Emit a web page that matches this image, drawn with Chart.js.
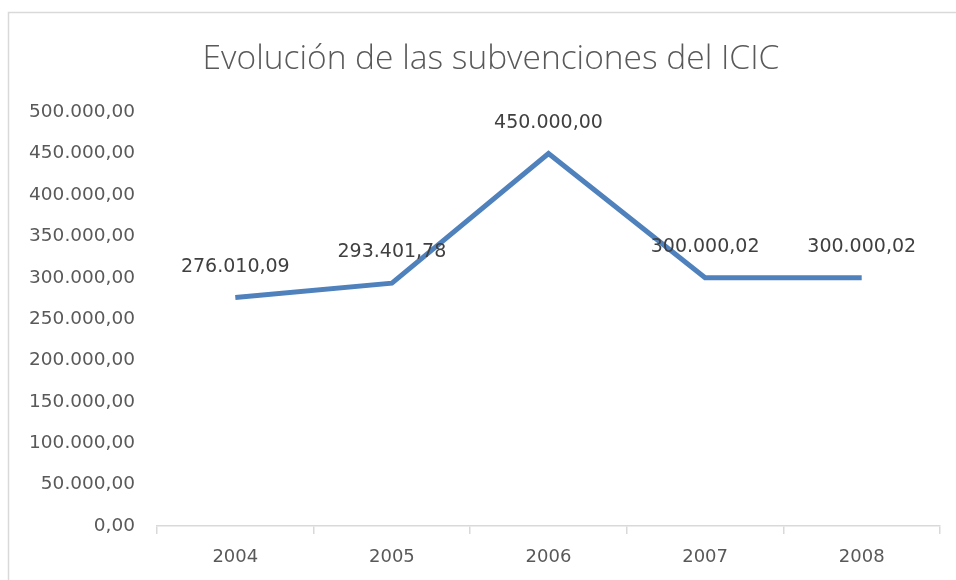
<!DOCTYPE html>
<html>
<head>
<meta charset="utf-8">
<script src="https://cdn.jsdelivr.net/npm/chart.js@4/dist/chart.umd.min.js"></script>
<style>
  html, body { margin: 0; padding: 0; background: #ffffff; }
  #wrap { width: 956px; height: 580px; position: relative; }
</style>
</head>
<body>
<div id="wrap"><canvas id="c" width="956" height="580"></canvas></div>
<script>
const chartTitle = "Evolución de las subvenciones del ICIC";
const years = ["2004", "2005", "2006", "2007", "2008"];
const subvenciones = [276010.09, 293401.78, 450000.00, 300000.02, 300000.02];
const yMin = 0;
const yMax = 500000;
const yStep = 50000;

function fmtES(v) {
  const neg = v < 0;
  const fixed = Math.abs(v).toFixed(2);
  let [intPart, dec] = fixed.split(".");
  intPart = intPart.replace(/\B(?=(\d{3})+(?!\d))/g, ".");
  return (neg ? "-" : "") + intPart + "," + dec;
}

const frame = {
  id: "frame",
  beforeDraw(chart) {
    const ctx = chart.ctx;
    ctx.save();
    ctx.fillStyle = "#ffffff";
    ctx.fillRect(0, 0, chart.width, chart.height);
    ctx.strokeStyle = "#d9d9d9";
    ctx.lineWidth = 1.5;
    ctx.beginPath();
    ctx.moveTo(8.5, chart.height);
    ctx.lineTo(8.5, 12.5);
    ctx.lineTo(chart.width, 12.5);
    ctx.stroke();
    ctx.restore();
  }
};

// shift the title block so it is centred like the reference (slightly right of canvas centre)
const titleShift = {
  id: "titleShift",
  afterLayout(chart) {
    const tb = chart.titleBlock;
    if (tb) { tb.left += 17; tb.right += 17; }
  }
};

const dataLabels = {
  id: "dataLabels",
  afterDatasetsDraw(chart) {
    const ctx = chart.ctx;
    const meta = chart.getDatasetMeta(0);
    const ds = chart.data.datasets[0];
    ctx.save();
    ctx.font = "19px 'DejaVu Sans', sans-serif";
    ctx.fillStyle = "#404040";
    ctx.textAlign = "center";
    ctx.textBaseline = "middle";
    meta.data.forEach((pt, i) => {
      ctx.fillText(fmtES(ds.data[i]), pt.x, pt.y - 31);
    });
    ctx.restore();
  }
};

new Chart(document.getElementById("c"), {
  type: "line",
  data: {
    labels: years,
    datasets: [{
      label: "Subvenciones",
      data: subvenciones,
      borderColor: "#4f81bd",
      backgroundColor: "#4f81bd",
      borderWidth: 5,
      pointRadius: 0,
      tension: 0,
      borderCapStyle: "butt",
      borderJoinStyle: "miter"
    }]
  },
  options: {
    responsive: false,
    animation: false,
    devicePixelRatio: 1,
    layout: { padding: { left: 8, right: 16, top: 0, bottom: 1 } },
    plugins: {
      legend: { display: false },
      tooltip: { enabled: false },
      title: {
        display: true,
        text: chartTitle,
        color: "#595959",
        font: { family: "'Open Sans', sans-serif", size: 33.5, weight: "300" },
        padding: { top: 39, bottom: 33 }
      }
    },
    scales: {
      x: {
        type: "category",
        offset: true,
        grid: {
          display: true,
          offset: true,
          drawOnChartArea: false,
          drawTicks: true,
          tickLength: 8,
          color: "#d9d9d9",
          lineWidth: 1.5
        },
        border: { display: true, color: "#d9d9d9", width: 1.5 },
        ticks: {
          color: "#595959",
          font: { family: "'DejaVu Sans', sans-serif", size: 18, lineHeight: 1.0 },
          padding: 14
        },
        afterFit(scale) { scale.height = 53; }
      },
      y: {
        min: yMin,
        max: yMax,
        grid: { display: false },
        border: { display: false },
        ticks: {
          stepSize: yStep,
          color: "#595959",
          font: { family: "'DejaVu Sans', sans-serif", size: 18.5 },
          padding: 14,
          callback: (v) => fmtES(v)
        },
        afterFit(scale) { scale.width = 149; }
      }
    }
  },
  plugins: [frame, titleShift, dataLabels]
});
</script>
</body>
</html>
